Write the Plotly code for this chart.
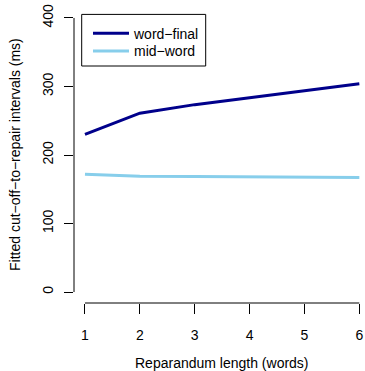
import plotly.graph_objects as go

lengths = [1, 2, 3, 4, 5, 6]
word_final = [230, 261, 273.5, 284, 294, 304]
mid_word = [172, 169, 168.5, 168, 167.5, 167]
y_ticks = [0, 100, 200, 300, 400]
x_title = "Reparandum length (words)"
y_title = "Fitted cut\u2212off\u2212to\u2212repair intervals (ms)"
names = ["word\u2212final", "mid\u2212word"]

FONT = "Liberation Sans, Arial, Helvetica, sans-serif"
FS = 14

fig = go.Figure()
fig.add_trace(go.Scatter(x=lengths, y=word_final, mode="lines", name=names[0],
                         line=dict(color="#00008B", width=3), cliponaxis=False,
                         legend="legend"))
fig.add_trace(go.Scatter(x=lengths, y=mid_word, mode="lines", name=names[1],
                         line=dict(color="#87CEEB", width=3), cliponaxis=False,
                         legend="legend2"))

W, H = 365, 371
ml, mr, mt, mb = 74, 0, 7.3, 67.7
PW, PH = W - ml - mr, H - mt - mb


def px_to_paper_x(px):
    return (px - ml) / PW


def px_to_paper_y(py):
    return (H - mb - py) / PH


leg_common = dict(xanchor="left", yanchor="top", borderwidth=0, bgcolor="rgba(0,0,0,0)",
                  font=dict(size=FS), tracegroupgap=0, itemwidth=36)

fig.update_layout(
    width=W, height=H,
    margin=dict(l=ml, r=mr, t=mt, b=mb, pad=0, autoexpand=False),
    paper_bgcolor="white", plot_bgcolor="white",
    font=dict(family=FONT, size=FS, color="black"),
    showlegend=True,
    legend=dict(x=px_to_paper_x(88), y=px_to_paper_y(18), **leg_common),
    legend2=dict(x=px_to_paper_x(88), y=px_to_paper_y(35.7), **leg_common),
    xaxis=dict(range=[0.8, 6.2 - (370.3 - 365) / 54.8], showgrid=False, zeroline=False,
               showline=False, ticks="outside", ticklen=10, tickwidth=1, tickcolor="black",
               tickvals=lengths, ticktext=[str(v) for v in lengths],
               ticklabelstandoff=9, automargin=False),
    yaxis=dict(range=[-16, 416], showgrid=False, zeroline=False, showline=False,
               ticks="outside", ticklen=9, tickwidth=1, tickcolor="black",
               tickvals=y_ticks, ticktext=[str(v) for v in y_ticks],
               tickangle=-90, ticklabelstandoff=5, automargin=False),
)

# legend frame (R style box)
fig.add_shape(type="rect", xref="paper", yref="paper",
              x0=px_to_paper_x(81.7), x1=px_to_paper_x(205.7),
              y0=px_to_paper_y(66.3), y1=px_to_paper_y(14.7),
              line=dict(color="black", width=1), fillcolor="rgba(0,0,0,0)", layer="above")

# axis lines spanning only the tick range (R style)
fig.add_shape(type="line", xref="paper", yref="y", x0=0, x1=0, y0=y_ticks[0], y1=y_ticks[-1],
              line=dict(color="black", width=1))
fig.add_shape(type="line", xref="x", yref="paper", x0=lengths[0], x1=lengths[-1], y0=0, y1=0,
              line=dict(color="black", width=1))

fig.add_annotation(text=x_title, xref="x", yref="paper", x=3.5, y=0, yshift=-(363 - 303.3),
                   showarrow=False, xanchor="center", yanchor="middle", font=dict(size=FS))
fig.add_annotation(text=y_title, xref="paper", yref="paper", x=0, xshift=-(74 - 15), y=0.5,
                   showarrow=False, textangle=-90, xanchor="center", yanchor="middle",
                   font=dict(size=FS))

fig.write_html("out.html", config={"displayModeBar": False},
               post_script="document.body.style.margin='0';document.body.style.overflow='hidden';")
